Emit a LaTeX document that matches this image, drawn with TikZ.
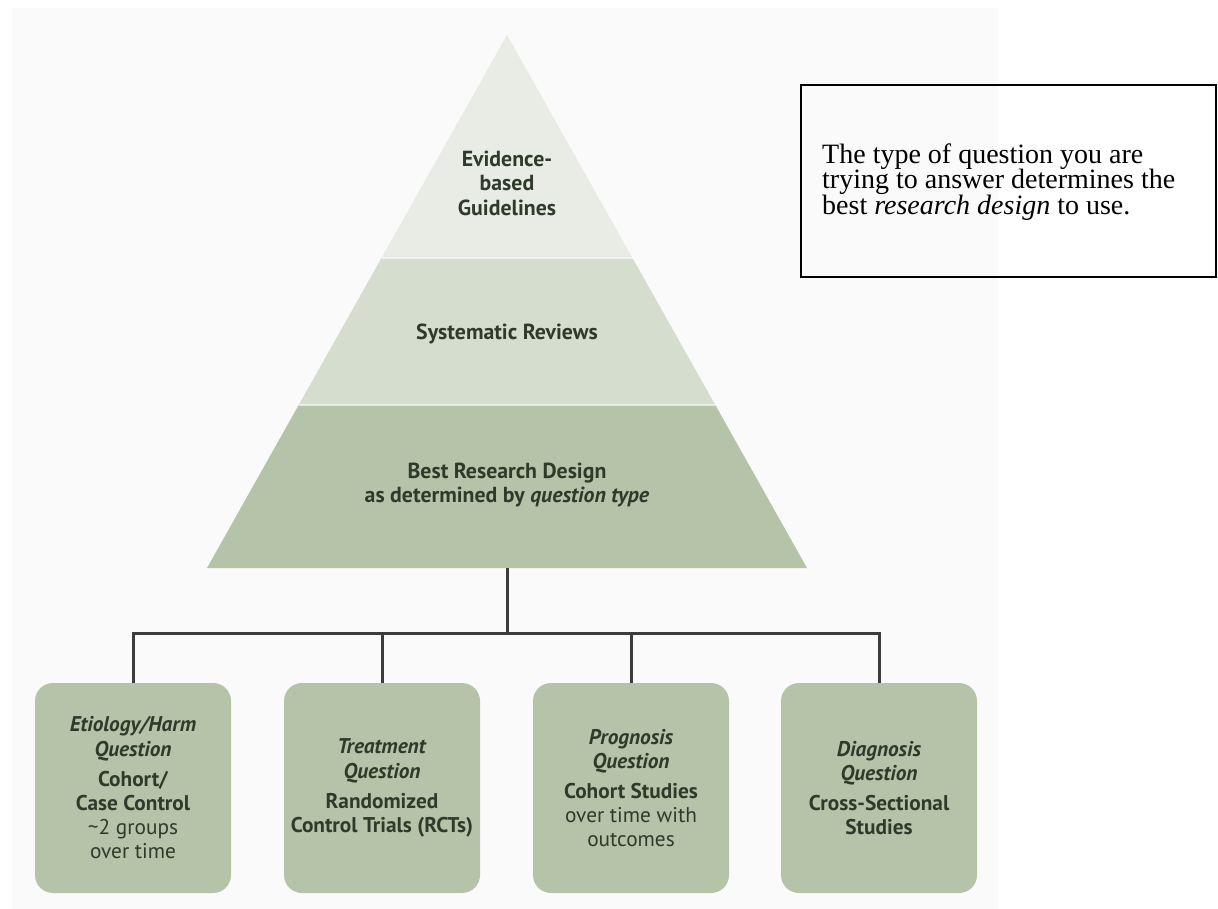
\documentclass[tikz,border=0pt]{standalone}
\usepackage{fontspec}
\setmainfont{Liberation Serif}
\newfontfamily\pyrfont{PT Sans}
\definecolor{tierA}{HTML}{E8ECE5}
\definecolor{tierB}{HTML}{D5DECE}
\definecolor{tierC}{HTML}{B5C4A8}
\definecolor{boxfill}{HTML}{B5C4A8}
\definecolor{txtc}{HTML}{2F3A2B}
\definecolor{linec}{HTML}{3A3D3A}
\definecolor{bgc}{HTML}{FAFAFA}
\begin{document}
\begin{tikzpicture}[x=1pt,y=-1pt,
  ptext/.style={font=\pyrfont\bfseries\fontsize{21.8}{24.5}\selectfont, text=txtc, align=center, inner sep=0pt},
  qbox/.style={fill=boxfill, rounded corners=18pt, minimum width=196pt, minimum height=210pt,
    font=\pyrfont\bfseries\fontsize{21.3}{24.3}\selectfont, text=txtc, align=center, inner sep=0pt},
  conn/.style={draw=linec, line width=3pt},
  notebox/.style={draw=black, line width=2.5pt},
]
\useasboundingbox (0,0) rectangle (1218,909);
\fill[white] (0,0) rectangle (1218,909);
\fill[bgc] (12,8) rectangle (998,909);
% pyramid
\coordinate (apex) at (507,35);
\coordinate (l1) at (381.5,258); \coordinate (r1) at (632.5,258);
\coordinate (l2) at (298.7,405); \coordinate (r2) at (715.3,405);
\coordinate (l3) at (207,568);   \coordinate (r3) at (807,568);
\fill[tierC] (l2) -- (r2) -- (r3) -- (l3) -- cycle;
\fill[tierB] (l1) -- (r1) -- (r2) -- (l2) -- cycle;
\fill[tierA] (apex) -- (r1) -- (l1) -- cycle;
\draw[white, line width=1.5pt, opacity=0.6] (l1) -- (r1) (l2) -- (r2);
\node[ptext] (t1) at (507,183) {Evidence-\\based\\Guidelines};
\node[ptext] (t2) at (507,334) {Systematic Reviews};
\node[ptext] (t3) at (507,485) {Best Research Design\\as determined by \textit{question type}};
% note box
\draw[notebox] (801,85) rectangle (1216,277);
\node[anchor=west, align=left, inner sep=0pt, font=\fontsize{28}{25.5}\selectfont] (note) at (822,182)
  {The type of question you are\\trying to answer determines the\\best \textit{research design} to use.};
% boxes
\node[qbox] (b1) at (133,788) {\textit{Etiology/Harm}\\\textit{Question}\\[5.5pt]Cohort/\\Case Control\\{\mdseries\textasciitilde2 groups}\\{\mdseries over time}};
\node[qbox] (b2) at (382,788) {\textit{Treatment}\\\textit{Question}\\[5.5pt]Randomized\\Control Trials (RCTs)};
\node[qbox] (b3) at (631,788) {\textit{Prognosis}\\\textit{Question}\\[5.5pt]Cohort Studies\\{\mdseries over time with}\\{\mdseries outcomes}};
\node[qbox] (b4) at (879,788) {\textit{Diagnosis}\\\textit{Question}\\[5.5pt]Cross-Sectional\\Studies};
% connectors
\coordinate (pb) at (507,568);
\coordinate (hub) at (507,633);
\draw[conn] (pb) -- (hub);
\draw[conn, line join=miter] (b1.north) -- (b1.north |- hub) -- (b4.north |- hub) -- (b4.north);
\draw[conn] (b2.north) -- (b2.north |- hub);
\draw[conn] (b3.north) -- (b3.north |- hub);
\end{tikzpicture}
\end{document}
